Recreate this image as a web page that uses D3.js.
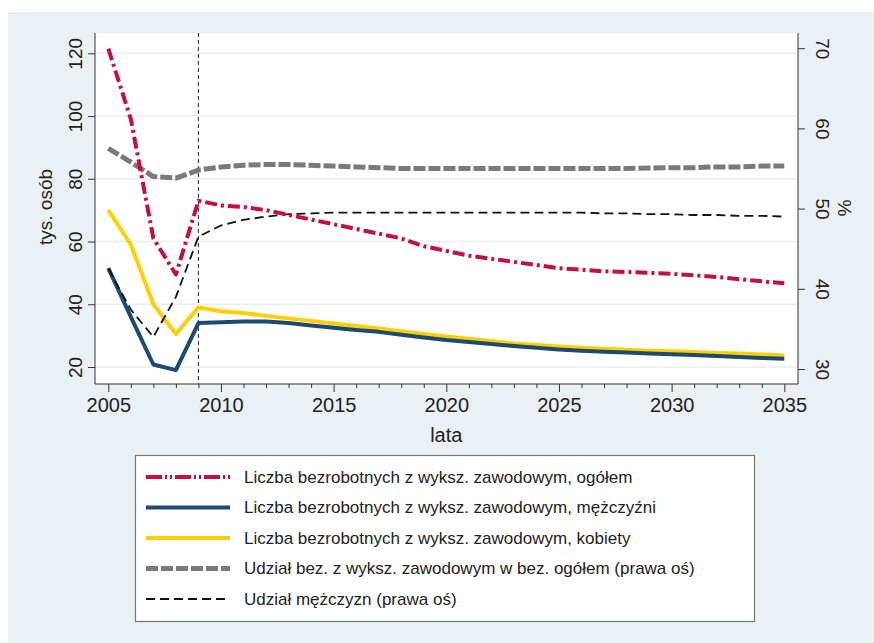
<!DOCTYPE html>
<html><head><meta charset="utf-8">
<script src="https://cdn.jsdelivr.net/npm/d3@7"></script>
<style>body{margin:0;background:#fff}svg{display:block;font-family:"Liberation Sans",Arial,sans-serif}</style>
</head><body>
<svg id="c" width="874" height="643"></svg>
<script>
const years = d3.range(2005, 2036);
const ogolem = [121.5,99,61,49.5,73,71.5,71,70,68.5,67,65.5,64,62.5,61,58.5,57,55.5,54.5,53.5,52.5,51.5,51,50.5,50.3,50,49.7,49.2,48.7,48,47.3,46.7];
const mezczyzni = [51.5,36,20.8,19,34,34.3,34.5,34.5,34,33.2,32.5,31.8,31.2,30.3,29.4,28.6,28,27.3,26.7,26.1,25.6,25.2,24.9,24.6,24.3,24.1,23.8,23.5,23.2,22.9,22.6];
const kobiety = [70,59,40,30.5,39,37.8,37.2,36.3,35.5,34.7,33.9,33.1,32.3,31.4,30.5,29.7,29,28.2,27.5,27,26.5,26.1,25.8,25.5,25.2,25,24.8,24.5,24.3,24,23.7];
const udzialZaw = [57.5,55.8,54,53.8,54.8,55.2,55.4,55.5,55.5,55.4,55.3,55.2,55.1,55,55,55,55,55,55,55,55,55,55,55,55.05,55.1,55.1,55.2,55.2,55.3,55.3];
const udzialMez = [42.5,37.4,34,39,46.5,47.9,48.6,49,49.3,49.4,49.5,49.5,49.5,49.5,49.5,49.5,49.5,49.5,49.5,49.5,49.5,49.5,49.4,49.4,49.3,49.3,49.2,49.2,49.1,49.1,49];
const leftTicks = [20,40,60,80,100,120];
const rightTicks = [30,40,50,60,70];
const xTicks = [2005,2010,2015,2020,2025,2030,2035];
const markerYear = 2009;
const legendLabels = [
 "Liczba bezrobotnych z wyksz. zawodowym, ogółem",
 "Liczba bezrobotnych z wyksz. zawodowym, mężczyźni",
 "Liczba bezrobotnych z wyksz. zawodowym, kobiety",
 "Udział bez. z wyksz. zawodowym w bez. ogółem (prawa oś)",
 "Udział mężczyzn (prawa oś)"
];

const svg = d3.select("#c");
const plot = {x0:95, x1:798, y0:33, y1:384};
svg.append("rect").attr("x",8).attr("y",12).attr("width",866).attr("height",631).attr("fill","#eaf0f3");
svg.append("rect").attr("x",plot.x0).attr("y",plot.y0).attr("width",plot.x1-plot.x0).attr("height",plot.y1-plot.y0).attr("fill","#fff");

const x = d3.scaleLinear().domain([2005,2035]).range([108.3,784.3]);
const yL = d3.scaleLinear().domain([20,120]).range([367,53.3]);
const yR = d3.scaleLinear().domain([30,70]).range([369,48.2]);

// grid
svg.append("g").attr("class","grid").selectAll("line").data(leftTicks).join("line")
  .attr("x1",plot.x0+1).attr("x2",plot.x1).attr("y1",d=>yL(d)).attr("y2",d=>yL(d))
  .attr("stroke","#eaeef2").attr("stroke-width",1.5);

// axes
const ax = "#333";
const gL = svg.append("g").attr("transform",`translate(${plot.x0},0)`)
  .call(d3.axisLeft(yL).tickValues(leftTicks).tickSize(7).tickFormat(d3.format("d")));
gL.select(".domain").attr("d",`M0,${plot.y0}V${plot.y1}`);
gL.selectAll(".tick text").attr("x",0).attr("y",0).attr("dy",0)
  .attr("transform","translate(-13,0) rotate(-90)").attr("text-anchor","middle");

const gR = svg.append("g").attr("transform",`translate(${plot.x1},0)`)
  .call(d3.axisRight(yR).tickValues(rightTicks).tickSize(7).tickFormat(d3.format("d")));
gR.select(".domain").attr("d",`M0,${plot.y0}V${plot.y1}`);
gR.selectAll(".tick text").attr("x",0).attr("y",0).attr("dy",0)
  .attr("transform","translate(18,0) rotate(90)").attr("text-anchor","middle");

const gB = svg.append("g").attr("transform",`translate(0,${plot.y1})`)
  .call(d3.axisBottom(x).tickValues(xTicks).tickSize(8).tickPadding(6).tickFormat(d3.format("d")));
gB.select(".domain").attr("d",`M${plot.x0},0H${plot.x1}`);
const gM = svg.append("g").attr("transform",`translate(0,${plot.y1})`)
  .call(d3.axisBottom(x).tickValues(years.filter(y=>y%5)).tickSize(4).tickFormat(""));
gM.select(".domain").remove();

[gL,gR,gB,gM].forEach(g=>{
  g.selectAll("path,line").attr("stroke",ax);
  g.selectAll("text").attr("fill","#222").style("font-size","19px").style("font-family","'Liberation Sans',Arial,sans-serif");
});
gB.selectAll("text").style("font-size","20px");

// axis titles
svg.append("text").attr("transform","translate(52,207) rotate(-90)").attr("text-anchor","middle")
  .style("font-size","19px").attr("fill","#222").text("tys. osób");
svg.append("text").attr("transform","translate(838,208) rotate(90)").attr("text-anchor","middle")
  .style("font-size","19px").attr("fill","#222").text("%");
svg.append("text").attr("x",x(2020)).attr("y",442).attr("text-anchor","middle")
  .style("font-size","20px").attr("fill","#222").text("lata");

// marker line
svg.append("line").attr("x1",x(markerYear)).attr("x2",x(markerYear)).attr("y1",plot.y0).attr("y2",plot.y1)
  .attr("stroke","#444").attr("stroke-width",1.2).attr("stroke-dasharray","4,3");

const series = [
  {v:ogolem, y:yL, color:"#c41040", w:4, dash:"12,4,3,4"},
  {v:mezczyzni, y:yL, color:"#1d4a73", w:4, dash:null},
  {v:kobiety, y:yL, color:"#ffd000", w:4, dash:null},
  {v:udzialZaw, y:yR, color:"#7a7a7a", w:5, dash:"12,3"},
  {v:udzialMez, y:yR, color:"#111", w:1.8, dash:"9,5"}
];
const drawOrder = [3,2,1,4,0];
drawOrder.forEach(i=>{
  const s = series[i];
  const line = d3.line().x((d,j)=>x(years[j])).y(d=>s.y(d));
  svg.append("path").attr("d",line(s.v)).attr("fill","none").attr("stroke",s.color)
    .attr("stroke-width",s.w).attr("stroke-dasharray",s.dash).attr("stroke-linejoin","round");
});

// legend
const lg = svg.append("g");
lg.append("rect").attr("x",135.5).attr("y",455.5).attr("width",619).attr("height",166)
  .attr("fill","#fff").attr("stroke","#777").attr("stroke-width",1.2);
const legendDash = ["16,3,2,3,2,3","","","12,3","9,5"];
legendLabels.forEach((t,i)=>{
  const yy = 477 + i*30.5;
  const s = series[i];
  lg.append("line").attr("x1",146).attr("x2",230).attr("y1",yy).attr("y2",yy)
    .attr("stroke",s.color).attr("stroke-width",s.w).attr("stroke-dasharray",legendDash[i]||null);
  lg.append("text").attr("x",244).attr("y",yy).attr("dy","0.35em").style("font-size","17px")
    .attr("fill","#222").text(t);
});
</script>
</body></html>
